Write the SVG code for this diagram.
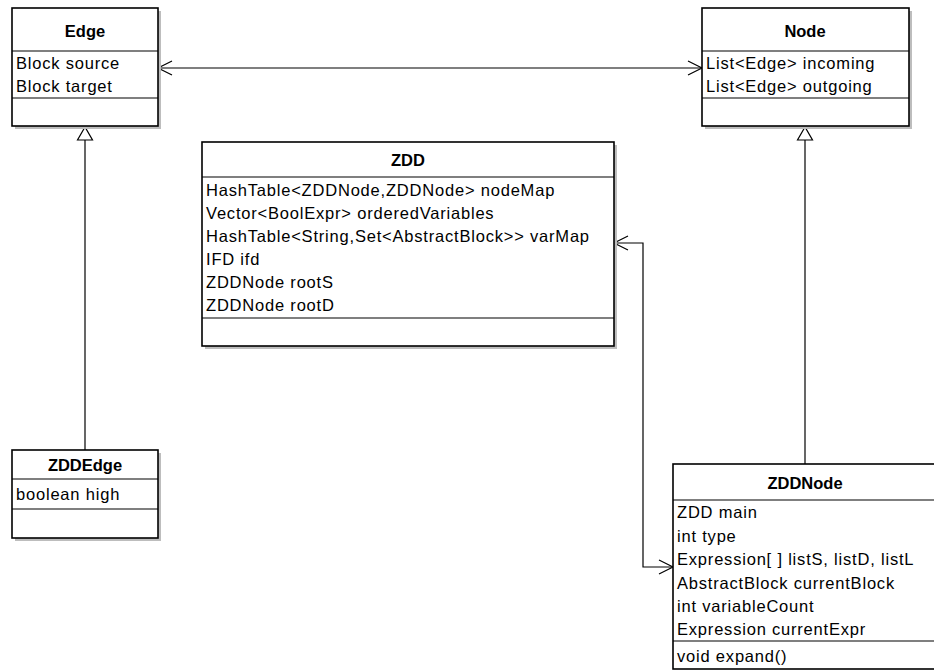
<svg xmlns="http://www.w3.org/2000/svg" width="934" height="670" viewBox="0 0 934 670">
<style>
.box{fill:#fff;stroke:#000;stroke-width:1.6}
.sh{fill:#bdbdbd}
.div{stroke:#000;stroke-width:1.2}
.t{font-family:"Liberation Sans",Arial,sans-serif;font-size:16.5px;letter-spacing:0.8px;fill:#000}
.h{font-family:"Liberation Sans",Arial,sans-serif;font-size:16.5px;font-weight:bold;fill:#000;text-anchor:middle}
.ln{fill:none;stroke:#000;stroke-width:1.2}
.tri{fill:#fff;stroke:#000;stroke-width:1.2}
</style>
<rect width="934" height="670" fill="#fff"/>
<g id="connectors">
  <line class="ln" x1="158" y1="68" x2="702" y2="68"/>
  <polyline class="ln" points="172,61 158,68 172,75"/>
  <polyline class="ln" points="688,61 702,68 688,75"/>
  <line class="ln" x1="85" y1="140" x2="85" y2="450"/>
  <polygon class="tri" points="85,127 77.5,140 92.5,140"/>
  <line class="ln" x1="805" y1="140" x2="805" y2="464"/>
  <polygon class="tri" points="805,127 797.5,140 812.5,140"/>
  <polyline class="ln" points="614,243 643,243 643,567 673,567"/>
  <polyline class="ln" points="628,236 614,243 628,250"/>
  <polyline class="ln" points="659,560 673,567 659,574"/>
</g>
<g id="Edge">
  <rect class="sh" x="15" y="11" width="146" height="118"/>
  <rect class="box" x="12" y="8" width="146" height="118"/>
  <line class="div" x1="12" y1="51" x2="158" y2="51"/>
  <line class="div" x1="12" y1="98" x2="158" y2="98"/>
  <text class="h" x="85" y="37">Edge</text>
  <text class="t" x="16" y="69">Block source</text>
  <text class="t" x="16" y="92">Block target</text>
</g>
<g id="Node">
  <rect class="sh" x="705" y="11" width="207" height="118"/>
  <rect class="box" x="702" y="8" width="207" height="118"/>
  <line class="div" x1="702" y1="51" x2="909" y2="51"/>
  <line class="div" x1="702" y1="98" x2="909" y2="98"/>
  <text class="h" x="805" y="37">Node</text>
  <text class="t" x="706" y="69">List&lt;Edge&gt; incoming</text>
  <text class="t" x="706" y="92">List&lt;Edge&gt; outgoing</text>
</g>
<g id="ZDD">
  <rect class="sh" x="205" y="145" width="412" height="204"/>
  <rect class="box" x="202" y="142" width="412" height="204"/>
  <line class="div" x1="202" y1="177" x2="614" y2="177"/>
  <line class="div" x1="202" y1="318" x2="614" y2="318"/>
  <text class="h" x="408" y="166">ZDD</text>
  <text class="t" x="206" y="196">HashTable&lt;ZDDNode,ZDDNode&gt; nodeMap</text>
  <text class="t" x="206" y="219">Vector&lt;BoolExpr&gt; orderedVariables</text>
  <text class="t" x="206" y="242">HashTable&lt;String,Set&lt;AbstractBlock&gt;&gt; varMap</text>
  <text class="t" x="206" y="265">IFD ifd</text>
  <text class="t" x="206" y="288">ZDDNode rootS</text>
  <text class="t" x="206" y="311">ZDDNode rootD</text>
</g>
<g id="ZDDEdge">
  <rect class="sh" x="15" y="453" width="146" height="88"/>
  <rect class="box" x="12" y="450" width="146" height="88"/>
  <line class="div" x1="12" y1="479" x2="158" y2="479"/>
  <line class="div" x1="12" y1="509" x2="158" y2="509"/>
  <text class="h" x="85" y="471">ZDDEdge</text>
  <text class="t" x="16" y="500">boolean high</text>
</g>
<g id="ZDDNode">
  <rect class="box" x="673" y="464" width="270" height="205"/>
  <line class="div" x1="673" y1="500" x2="943" y2="500"/>
  <line class="div" x1="673" y1="641" x2="943" y2="641"/>
  <text class="h" x="805" y="489">ZDDNode</text>
  <text class="t" x="677" y="518">ZDD main</text>
  <text class="t" x="677" y="542">int type</text>
  <text class="t" x="677" y="565">Expression[ ] listS, listD, listL</text>
  <text class="t" x="677" y="589">AbstractBlock currentBlock</text>
  <text class="t" x="677" y="612">int variableCount</text>
  <text class="t" x="677" y="635">Expression currentExpr</text>
  <text class="t" x="677" y="662">void expand()</text>
</g>
</svg>
